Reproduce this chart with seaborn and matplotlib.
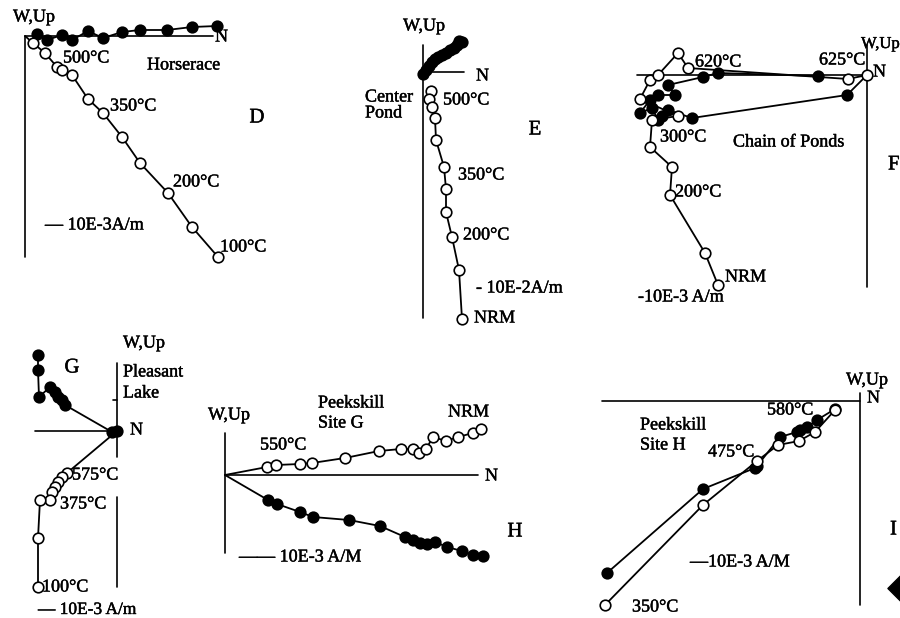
import seaborn as sns
import matplotlib.pyplot as plt
import matplotlib.patheffects as pe
import numpy as np
import pandas as pd

# Zijderveld diagrams: N component (horizontal) vs W,Up component (vertical),
# values, relative to each diagram's origin
# D - Horserace
d_fill_n = [12, 22, 37, 47, 63, 78, 97, 115, 142, 167, 192]
d_fill_up = [2, -4, 1, -4, 5, -2, 4, 6, 6, 9, 10]
d_open_n = [8, 20, 32, 37, 47, 63, 78, 97, 115, 143, 167, 193]
d_open_up = [-7, -17, -31, -34, -39, -63, -77, -101, -127, -157, -191, -221]

# E - Center Pond
e_fill_n = [0, 3, 6, 9, 12, 15, 19, 23, 27, 31, 34, 36, 39]
e_fill_up = [-2, 2, 6, 10, 13, 15, 17, 19, 22, 24, 27, 31, 30]
e_open_n = [8, 6, 9, 12, 13, 21, 23, 23, 29, 36, 39]
e_open_up = [-19, -27, -35, -46, -68, -95, -117, -140, -165, -198, -247]

# F - Chain of Ponds
f_fill_n = [0, -20, -175, -199, -205, -209, -215, -227, -217, -209, -192, -199, -164, -149, -49]
f_fill_up = [0, -20, -43, -35, -41, -45, -33, -38, -25, -20, -20, -10, -2, 2, -1]
f_open_n = [-149, -162, -197, -195, -217, -215, -189, -227, -217, -209, -189, -179, -19, 0]
f_open_up = [-210, -178, -120, -92, -72, -45, -41, -24, -5, 0, 22, 7, -4, 0]

# G - Pleasant Lake
g_fill_n = [-79, -79, -78, -67, -62, -59, -55, -52, -5, 0]
g_fill_up = [76, 61, 34, 44, 39, 34, 31, 26, -1, 0]
g_open_n = [0, -50, -55, -59, -62, -65, -67, -77, -79, -79]
g_open_up = [0, -42, -46, -51, -56, -61, -69, -69, -107, -156]

# H - Peekskill Site G
h_open_n = [42, 51, 75, 87, 120, 154, 176, 188, 194, 201, 208, 221, 233, 248, 256]
h_open_up = [8, 10, 11, 12, 17, 24, 26, 26, 22, 26, 38, 34, 38, 42, 46]
h_fill_n = [43, 52, 75, 88, 124, 155, 180, 188, 195, 202, 210, 222, 237, 248, 258]
h_fill_up = [-25, -29, -37, -42, -45, -51, -62, -65, -68, -69, -67, -72, -76, -80, -81]

# I - Peekskill Site H
i_fill_n = [-253, -157, -105, -103, -80, -63, -60, -53, -43, -25]
i_fill_up = [-172, -88, -67, -65, -36, -31, -29, -26, -19, -8]
i_open_n = [-255, -157, -103, -82, -61, -45, -25]
i_open_up = [-204, -104, -60, -44, -40, -31, -9]

sns.set_theme(style='white')
plt.rcParams['font.family'] = ['Liberation Serif', 'DejaVu Serif']

W, H = 900, 618
fig = plt.figure(figsize=(9, 6.18), dpi=100)
fig.patch.set_facecolor('white')

FS = 13
ink = [pe.withStroke(linewidth=0.3, foreground='black')]


def panel(ox, oy):
    # full-figure transparent axes, origin of the diagram at pixel (ox, oy)
    ax = fig.add_axes([0, 0, 1, 1])
    ax.set_xlim(-ox, W - ox)
    ax.set_ylim(oy - H, oy)
    ax.axis('off')
    ax.patch.set_alpha(0)
    return ax


def axes_lines(ax, hx, vy):
    ax.plot(hx, [0, 0], color='black', lw=1.2)
    ax.plot([0, 0], vy, color='black', lw=1.2)


def series(ax, n, up, filled, skip_first=False):
    sns.lineplot(x=n, y=up, sort=False, estimator=None, color='black',
                 lw=1.3, legend=False, ax=ax)
    mn, mu = (n[1:], up[1:]) if skip_first else (n, up)
    sns.scatterplot(x=mn, y=mu, s=58, marker='o', linewidth=1.2,
                    facecolor='black' if filled else 'white',
                    edgecolor='black', zorder=3, legend=False, ax=ax)


def label(ax, x, y, s, ha='left', size=FS):
    ax.text(x, y, s, ha=ha, va='center', fontsize=size, color='black',
            path_effects=ink)


# ---- D
ax = panel(25, 36)
axes_lines(ax, [0, 188], [0, -221])
series(ax, d_fill_n, d_fill_up, True)
series(ax, [0] + d_open_n, [0] + d_open_up, False, skip_first=True)
label(ax, -12, 19, 'W,Up')
label(ax, 190, -1, 'N')
label(ax, 38, -22, '500°C')
label(ax, 85, -70, '350°C')
label(ax, 148, -146, '200°C')
label(ax, 195, -211, '100°C')
label(ax, 122, -29, 'Horserace')
label(ax, 232, -82, 'D', ha='center', size=15)
label(ax, 20, -189, '— 10E-3A/m')

# ---- E
ax = panel(423, 72)
axes_lines(ax, [0, 41], [27, -246])
series(ax, e_fill_n, e_fill_up, True)
series(ax, e_open_n, e_open_up, False)
label(ax, 1, 46, 'W,Up', ha='center')
label(ax, 53, -4, 'N')
label(ax, -58, -25, 'Center')
label(ax, -58, -41, 'Pond')
label(ax, 20, -28, '500°C')
label(ax, 35, -103, '350°C')
label(ax, 40, -163, '200°C')
label(ax, 53, -216, '- 10E-2A/m')
label(ax, 51, -246, 'NRM')
label(ax, 112, -58, 'E', ha='center', size=15)

# ---- F
ax = panel(867, 75)
axes_lines(ax, [-230, 0], [30, -212])
series(ax, f_fill_n, f_fill_up, True, skip_first=True)
series(ax, f_open_n, f_open_up, False)
label(ax, -6, 31, 'W,Up', size=12)
label(ax, 6, 3, 'N')
label(ax, -172, 13, '620°C')
label(ax, -48, 15, '625°C')
label(ax, -207, -62, '300°C')
label(ax, -134, -67, 'Chain of Ponds')
label(ax, -192, -117, '200°C')
label(ax, -142, -202, 'NRM')
label(ax, -229, -222, '-10E-3 A/m')
label(ax, 21, -90, 'F', size=15)

# ---- G
ax = panel(117, 431)
ax.plot([-82, 0], [0, 0], color='black', lw=1.2)
ax.plot([0, 0], [68, -26], color='black', lw=1.2)
ax.plot([0, 0], [-66, -156], color='black', lw=1.2)
ax.plot([-4, 0], [31, 31], color='black', lw=1.2)
series(ax, g_fill_n, g_fill_up, True)
series(ax, g_open_n, g_open_up, False, skip_first=True)
label(ax, 6, 88, 'W,Up')
label(ax, -45, 63, 'G', ha='center', size=15)
label(ax, 6, 59, 'Pleasant')
label(ax, 6, 38, 'Lake')
label(ax, 13, 1, 'N')
label(ax, -45, -44, '575°C')
label(ax, -57, -73, '375°C')
label(ax, -75, -156, '100°C')
label(ax, -79, -179, '— 10E-3 A/m', size=12.5)

# ---- H
ax = panel(225, 475)
axes_lines(ax, [0, 253], [42, -78])
series(ax, [0] + h_open_n, [0] + h_open_up, False, skip_first=True)
series(ax, [0] + h_fill_n, [0] + h_fill_up, True, skip_first=True)
label(ax, -17, 60, 'W,Up')
label(ax, 93, 72, 'Peekskill')
label(ax, 93, 52, 'Site G')
label(ax, 223, 63, 'NRM')
label(ax, 35, 30, '550°C')
label(ax, 260, -1, 'N')
label(ax, 290, -57, 'H', ha='center', size=15)
label(ax, 14, -82, '—— 10E-3 A/M')

# ---- I
ax = panel(860, 401)
axes_lines(ax, [-258, 0], [8, -204])
series(ax, i_fill_n, i_fill_up, True)
series(ax, i_open_n, i_open_up, False)
label(ax, -14, 21, 'W,Up')
label(ax, 7, 3, 'N')
label(ax, -220, -24, 'Peekskill')
label(ax, -220, -44, 'Site H')
label(ax, -152, -51, '475°C')
label(ax, -93, -9, '580°C')
label(ax, -228, -206, '350°C')
label(ax, -170, -161, '—10E-3 A/M')
label(ax, 30, -129, 'I', size=15)
ax.scatter([42], [-187], marker='D', s=220, color='black', clip_on=True)

fig.savefig('out.png', dpi=100)
